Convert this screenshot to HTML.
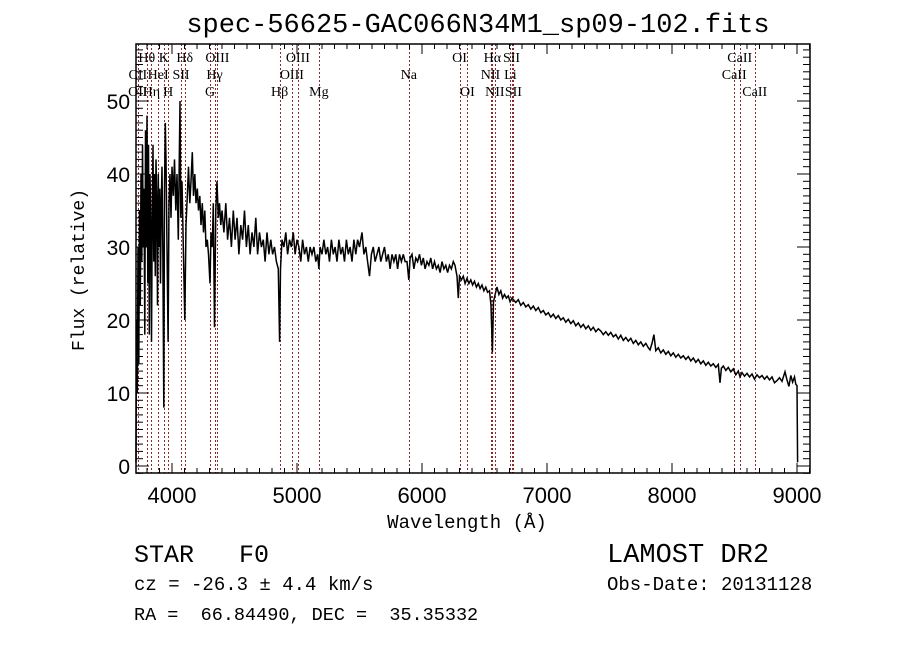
<!DOCTYPE html>
<html><head><meta charset="utf-8"><style>
body{margin:0;background:#fff;}
svg{display:block;}
text{fill:#000;}
</style></head><body>
<svg id="chart" width="900" height="649" viewBox="0 0 900 649" xmlns="http://www.w3.org/2000/svg">
<rect width="900" height="649" fill="#fff"/>
<text x="478" y="32" font-family="Liberation Mono, monospace" font-size="27" text-anchor="middle">spec-56625-GAC066N34M1_sp09-102.fits</text>
<g id="lines"></g>
<g id="spec"></g>
<g id="axes"></g>
<text x="467" y="528" font-family="Liberation Mono, monospace" font-size="19" text-anchor="middle">Wavelength (Å)</text>
<text transform="translate(84,270) rotate(-90)" font-family="Liberation Mono, monospace" font-size="18" text-anchor="middle">Flux (relative)</text>
<text x="134" y="562" font-family="Liberation Mono, monospace" font-size="25" xml:space="preserve">STAR   F0</text>
<text x="607" y="562" font-family="Liberation Mono, monospace" font-size="27">LAMOST DR2</text>
<text x="134" y="590" font-family="Liberation Mono, monospace" font-size="19" xml:space="preserve">cz = -26.3 ± 4.4 km/s</text>
<text x="607" y="590" font-family="Liberation Mono, monospace" font-size="19">Obs-Date: 20131128</text>
<text x="134" y="620" font-family="Liberation Mono, monospace" font-size="18.5" xml:space="preserve">RA =  66.84490, DEC =  35.35332</text>
</svg>
<script>
const wave = [3712,3716,3722,3728,3734,3740,3746,3752,3758,3764,3770,3776,3782,3788,3794,3800,3806,3812,3818,3824,3830,3836,3842,3848,3854,3860,3866,3872,3878,3884,3890,3896,3902,3908,3914,3920,3926,3934,3940,3946,3952,3960,3969,3976,3984,3992,4000,
4010,4020,4030,4040,4050,4064,4070,4080,4090,4102,4112,4122,4132,4142,4152,4162,4172,4182,4192,4202,4212,4222,4232,4242,4252,4262,4272,4282,4292,4304,4312,4322,4330,4340,4350,4360,4370,4380,4390,
4400,4415,4430,4445,4460,4475,4490,4505,4520,4535,4550,4565,4580,4595,4610,4625,4640,4655,4670,4685,4700,4715,4730,4745,4760,4775,4790,4805,4820,4835,4850,4861,4868,4880,4895,4910,4925,4940,4955,4970,4985,5000,
5015,5030,5045,5060,5075,5090,5105,5120,5135,5150,5165,5175,5185,5200,5215,5230,5245,5260,5275,5290,5305,5320,5335,5350,5365,5380,5395,5410,5425,5440,5455,5470,5485,5500,5520,5535,5550,5565,5580,5595,5610,5625,5640,5655,5670,5685,5700,5715,5730,5745,5760,5775,5790,5805,5820,5835,5850,5865,5880,5894,5905,5920,5935,5950,5965,5980,5995,
6010,6025,6040,6055,6070,6085,6100,6115,6130,6145,6160,6175,6190,6205,6220,6235,6250,6264,6280,6290,6300,6315,6330,6345,6360,6375,6390,6405,6420,6435,6450,6465,6480,6495,6510,6525,6540,6552,6563,6572,6585,6600,6615,6630,6645,6660,6675,6690,6705,6720,6735,6750,6770,6790,6810,6830,6850,6870,6890,6910,6930,6950,6970,6990,
7010,7030,7050,7070,7090,7110,7130,7150,7170,7190,7210,7230,7250,7270,7290,7310,7330,7350,7370,7390,7410,7430,7450,7470,7490,7510,7530,7550,7570,7590,7610,7630,7650,7670,7690,7710,7730,7750,7770,7790,7810,7824,7840,7855,7870,7890,7910,7930,7950,7970,7990,
8010,8030,8050,8070,8090,8110,8130,8150,8170,8190,8210,8230,8250,8270,8290,8310,8330,8350,8370,8384,8395,8410,8430,8450,8470,8490,8510,8530,8544,8560,8580,8600,8620,8640,8660,8680,8700,8720,8740,8760,8780,8800,8820,8840,8860,8880,8904,8920,8935,8950,8965,8980,8990,9000,9005];
const flux = [0.5,20,10,30,14,35,22,40,28,44,30,38,18,46,30,48,25,44,18,40,33,17,35,44,28,40,26,42,36,22,40,30,38,25,36,41,30,8,38,47,42,30,17,36,40,34,41,
37,42,35,40,31,50,34,39,30,20,33,37,41,36,39,43,37,40,36,38,35,37,33,36,32,35,30,31,29,25,32,30,36,19,35,39,34,36,33,
35,32,36,31,34,30,35,31,34,29,33,31,35,30,33,29,32,30,34,29,32,30,31,28,32,29,31,29,30,28,27,17,27,31,30,32,29,31,30,32,29,31,
30,28,31,29,30,28,30,29,30,28,29,27,30,29,31,29,30,28,31,29,30,28,31,29,30,28,31,29,30,28,31,29,31,30,32,29,30,28,26,29,30,28,29,30,28,29,30,28,29,27,29,28,29,27,29,28,29,28,28,25.5,28.5,29,27,28.5,28,29,27.5,
28.5,27,28,27.5,28.5,27,28,27,27.5,26.5,28,27,27.5,26.5,27.5,27,28,27.5,26,23,26,25.5,26,25,25.7,25,25.5,24.8,25.3,24.5,25,24.3,24.8,24,24.5,23.8,24,22,15.6,22.5,23.5,24.5,23.5,24,23,23.5,23,23.3,22.5,23,22.7,22.4,22.8,22,22.4,21.8,22.1,21.5,21.9,21.3,21.7,21,21.3,20.7,
21,20.4,20.8,20.2,20.6,20,20.3,19.7,20.1,19.5,19.9,19.2,19.6,19,19.4,18.8,19.2,18.6,19,18.4,18.8,18.5,18,18.4,17.9,18.3,17.7,18,17.4,17.9,17.2,17.6,17.1,17.5,16.8,17.2,16.6,17,16.4,16.8,16.2,15.9,16.8,18,15.8,16.2,15.5,15.9,15.3,15.7,15.1,
15.5,14.9,15.3,14.8,15.1,14.6,15,14.4,14.8,14.2,14.6,14,14.4,13.8,14.2,13.7,14,13.5,13.9,11.4,13.4,13.7,13.1,13.5,12.9,13.3,12.5,13,12.2,12.8,12.3,12.7,12.2,12.6,11.9,12.5,12.1,12.4,11.9,12.3,11.8,12.2,11.4,11.7,12.1,11.6,12.9,11.8,10.9,12.4,11.5,12.2,11.2,11,0.5];
const lineWaves = [3727,3798,3835,3889,3934,3969,4072,4102,4304,4340,4363,4861,4959,5007,5175,5894,6300,6363,6548,6563,6583,6707,6716,6731,8498,8542,8662];
const lineLabels = [["OII",3727,3],["CII",3727,2],["Hθ",3798,1],["Hη",3835,3],["HeI",3889,2],["K",3934,1],["H",3969,3],["SII",4072,2],["Hδ",4102,1],["G",4304,3],["Hγ",4340,2],["OIII",4363,1],["Hβ",4861,3],["OIII",4959,2],["OIII",5007,1],["Mg",5175,3],["Na",5894,2],["OI",6300,1],["OI",6363,3],["NII",6548,2],["Hα",6563,1],["NII",6583,3],["Li",6707,2],["SII",6716,1],["SII",6731,3],["CaII",8498,2],["CaII",8542,1],["CaII",8662,3]];
const xTicks = [4000,5000,6000,7000,8000,9000];
const yTicks = [0,10,20,30,40,50];

const X0=136,X1=810,Y0=44,Y1=473;
function xs(w){return 172+(w-4000)*0.125;}
function ys(f){return 466-f*7.3;}
const NS="http://www.w3.org/2000/svg";
function mk(tag,attrs,parent){const e=document.createElementNS(NS,tag);for(const k in attrs)e.setAttribute(k,attrs[k]);parent.appendChild(e);return e;}
const gl=document.getElementById('lines');
lineWaves.forEach(w=>{
  const l=mk('line',{x1:Math.round(xs(w))+0.5,x2:Math.round(xs(w))+0.5,y1:Y0,y2:Y1,stroke:'#8b2a2a','stroke-width':1,'stroke-dasharray':'2,2'},gl);
  
  
});
lineLabels.forEach(d=>{
  const t=mk('text',{x:xs(d[1]),y:[0,62,79,96][d[2]],'font-family':'Liberation Serif, serif','font-size':14,'text-anchor':'middle'},gl);
  t.textContent=d[0];
  
  
});
const gs=document.getElementById('spec');
let pts=wave.map((w,i)=>xs(w).toFixed(1)+','+ys(flux[i]).toFixed(1)).join(' ');
const pl=mk('polyline',{points:pts,fill:'none',stroke:'#000','stroke-width':1.5,'stroke-linejoin':'miter'},gs);


const ga=document.getElementById('axes');
const fr=mk('rect',{x:X0,y:Y0,width:X1-X0,height:Y1-Y0,fill:'none',stroke:'#000','stroke-width':1.5},ga);


for(let w=3800;w<=9100;w+=100){
  const x=xs(w);const maj=(w%1000===0);const L=maj?10:5;
  mk('line',{x1:x,x2:x,y1:Y1,y2:Y1-L,stroke:'#000','stroke-width':1},ga);
  mk('line',{x1:x,x2:x,y1:Y0,y2:Y0+L,stroke:'#000','stroke-width':1},ga);
}
for(let f=-1;f<=57;f++){
  const y=ys(f);const maj=(f%10===0);const L=maj?13:7;
  mk('line',{x1:X0,x2:X0+L,y1:y,y2:y,stroke:'#000','stroke-width':1},ga);
  mk('line',{x1:X1,x2:X1-L,y1:y,y2:y,stroke:'#000','stroke-width':1},ga);
}
xTicks.forEach(w=>{
  const t=mk('text',{x:xs(w),y:503,'font-family':'Liberation Sans, sans-serif','font-size':22,'text-anchor':'middle'},ga);
  t.textContent=w;
  
  
});
yTicks.forEach(f=>{
  const t=mk('text',{x:130,y:ys(f)+8,'font-family':'Liberation Sans, sans-serif','font-size':21,'text-anchor':'end'},ga);
  t.textContent=f;
  
  
});
</script>
</body></html>
